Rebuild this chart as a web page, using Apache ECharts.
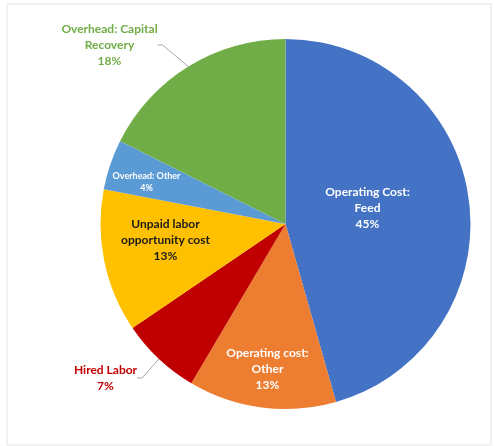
<!DOCTYPE html>
<html>
<head>
<meta charset="utf-8">
<script src="https://cdn.jsdelivr.net/npm/echarts@6/dist/echarts.min.js"></script>
<style>
html,body{margin:0;padding:0;background:#fff;}
#chart{width:494px;height:446px;}
</style>
</head>
<body>
<div id="chart"></div>
<script>
const categories = [
  'Operating Cost:\nFeed',
  'Operating cost:\nOther',
  'Hired Labor',
  'Unpaid labor\nopportunity cost',
  'Overhead: Other',
  'Overhead: Capital\nRecovery'
];
const values = [45.6, 12.9, 7.0, 12.5, 4.4, 17.6];
const percentLabels = ['45%', '13%', '7%', '13%', '4%', '18%'];
const colors = ['#4472C4', '#ED7D31', '#C00000', '#FFC000', '#5B9BD5', '#70AD47'];

const CX = 285.5, CY = 224, R = 185;
// label anchor positions relative to pie centre (style)
const labelOffsets = [[82, -16], [-18, 145], [-180, 154], [-120, 16], [-139, -42], [-176, -179]];
const labelColors = ['#ffffff', '#ffffff', '#C00000', '#1a1a1a', '#ffffff', '#70AD47'];
const labelSizes = [12, 12, 12, 12, 9, 12];
const outside = [false, false, true, false, false, true];

const chart = echarts.init(document.getElementById('chart'), null, {renderer: 'canvas'});
const data = categories.map((c, i) => ({
  name: c,
  value: values[i],
  itemStyle: {color: colors[i]},
  label: {
    position: outside[i] ? 'outside' : 'inside',
    color: labelColors[i],
    fontSize: labelSizes[i],
    lineHeight: labelSizes[i] === 9 ? 12 : 16
  },
  labelLine: {show: outside[i]}
}));

chart.setOption({
  animation: false,
  graphic: [{
    type: 'rect', shape: {x: 7, y: 4, width: 484, height: 441},
    style: {fill: 'none', stroke: '#e4e4e4', lineWidth: 1}, silent: true, z: -1
  }],
  series: [{
    type: 'pie',
    center: [CX, CY],
    radius: R,
    startAngle: 90,
    clockwise: true,
    avoidLabelOverlap: false,
    itemStyle: {borderColor: '#ffffff', borderWidth: 0},
    label: {
      show: true,
      fontFamily: 'Lato',
      fontWeight: 'bold',
      align: 'center',
      formatter: p => p.name + '\n' + percentLabels[p.dataIndex]
    },
    labelLine: {lineStyle: {color: '#a6a6a6', width: 1}, length: 10, length2: 5, smooth: false},
    labelLayout: function (params) {
      const o = labelOffsets[params.dataIndex];
      return {x: CX + o[0], y: CY + o[1], align: 'center', verticalAlign: 'middle'};
    },
    data: data
  }]
});
</script>
</body>
</html>
